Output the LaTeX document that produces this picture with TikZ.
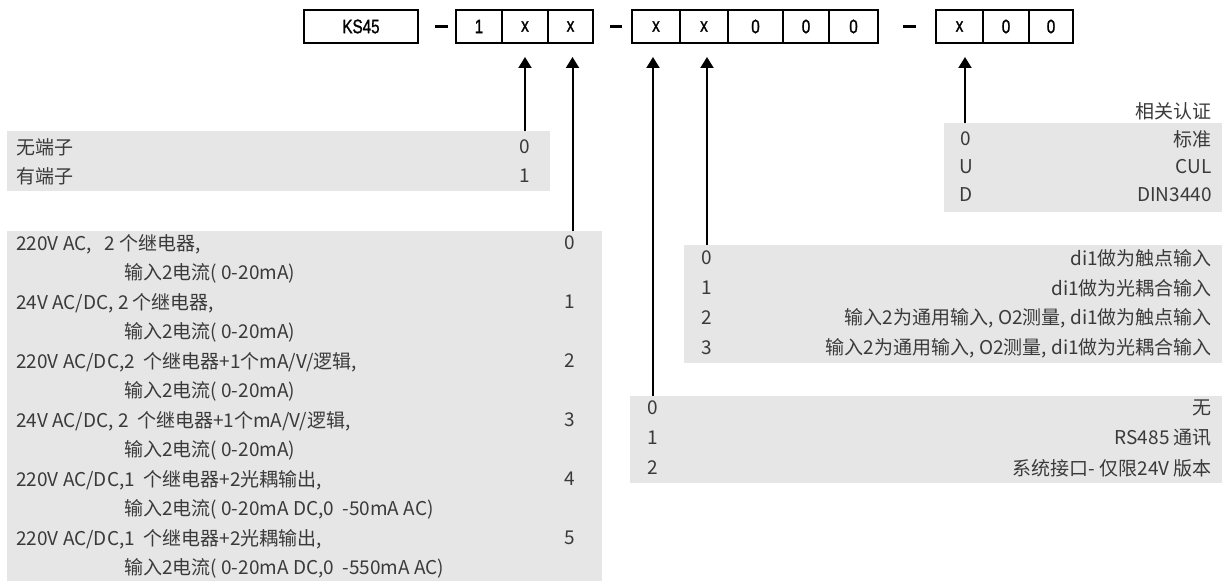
\documentclass[tikz,border=0pt]{standalone}
\usepackage{fontspec}
\setmainfont{Noto Sans CJK SC}
\newfontfamily\boxfont{Liberation Sans}[FakeStretch=0.78,FakeBold=1.2]
\usetikzlibrary{arrows.meta}
\definecolor{panelgray}{HTML}{E6E6E6}
\definecolor{txt}{HTML}{3A3A3A}
\begin{document}
\begin{tikzpicture}[x=1pt,y=-1pt,
  cell/.style={draw, line width=1.1pt, minimum height=33pt, inner sep=0pt,
    font=\boxfont\fontsize{19.5}{20}\selectfont},
  panel/.style={fill=panelgray, draw=none, inner sep=0pt, anchor=north west},
  lt/.style={anchor=west, inner sep=0pt, text=txt, font=\fontsize{19}{20}\selectfont},
  rt/.style={anchor=east, inner sep=0pt, text=txt, font=\fontsize{19}{20}\selectfont},
  dg/.style={anchor=center, inner sep=0pt, text=txt, font=\fontsize{19}{20}\selectfont},
  arr/.style={line width=2pt, -{Triangle[length=11pt,width=13pt]}},
  dashline/.style={line width=2.6pt}]
\useasboundingbox (0,0) rectangle (1229,585);
% top code boxes (y from 10 to 43)
\node[cell, minimum width=114pt] (ks) at (361,26.5) {KS45};
\draw[dashline] (435,26.5) -- (448,26.5);
\node[cell, minimum width=46pt] (a1) at (479,26.5) {1};
\node[cell, minimum width=46pt] (a2) at (525,26.5) {x};
\node[cell, minimum width=45pt] (a3) at (570.5,26.5) {x};
\draw[dashline] (610,26.5) -- (622,26.5);
\node[cell, minimum width=48pt] (b1) at (656,26.5) {x};
\node[cell, minimum width=48pt] (b2) at (704,26.5) {x};
\node[cell, minimum width=55pt] (b3) at (755.5,26.5) {0};
\node[cell, minimum width=46pt] (b4) at (806,26.5) {0};
\node[cell, minimum width=49pt] (b5) at (853.5,26.5) {0};
\draw[dashline] (903,26.5) -- (916,26.5);
\node[cell, minimum width=47pt] (c1) at (959.5,26.5) {x};
\node[cell, minimum width=46pt] (c2) at (1006,26.5) {0};
\node[cell, minimum width=44pt] (c3) at (1051,26.5) {0};
% panels
\node[panel, minimum width=543pt, minimum height=60pt] (p1) at (7,131) {};
\node[panel, minimum width=595pt, minimum height=350pt] (p2) at (7,231) {};
\node[panel, minimum width=538pt, minimum height=118pt] (p3) at (684,245) {};
\node[panel, minimum width=592pt, minimum height=87pt] (p4) at (630,396) {};
\node[panel, minimum width=278pt, minimum height=89pt] (p5) at (944,123) {};
% arrow tips
\coordinate (t1) at (525,57);
\coordinate (t2) at (572.5,57);
\coordinate (t3) at (653,57);
\coordinate (t4) at (707,57);
\coordinate (t5) at (965,57);
\draw[arr] (p1.north -| t1) -- (t1);
\draw[arr] (p2.north -| t2) -- (t2);
\draw[arr] (p4.north -| t3) -- (t3);
\draw[arr] (p3.north -| t4) -- (t4);
\draw[arr] (p5.north -| t5) -- (t5);
% panel 1
\node[lt] (p1a) at (16,147) {无端子};
\node[dg] (p1ad) at (525,147) {0};
\node[lt] (p1b) at (16,176) {有端子};
\node[dg] (p1bd) at (525,176) {1};
% panel 2
\node[lt] (l1) at (16,244) {220V AC,\ \ \ 2 个继电器,};
\node[lt] (l2) at (124,273.5) {输入2电流( 0-20mA)};
\node[lt] (l3) at (16,303) {24V AC/DC, 2 个继电器,};
\node[lt] (l4) at (124,332.5) {输入2电流( 0-20mA)};
\node[lt] (l5) at (16,362) {220V AC/DC,2\ \ 个继电器+1个mA/V/逻辑,};
\node[lt] (l6) at (124,391.5) {输入2电流( 0-20mA)};
\node[lt] (l7) at (16,421) {24V AC/DC, 2\ \ 个继电器+1个mA/V/逻辑,};
\node[lt] (l8) at (124,450.5) {输入2电流( 0-20mA)};
\node[lt] (l9) at (16,480) {220V AC/DC,1\ \ 个继电器+2光耦输出,};
\node[lt] (l10) at (124,509.5) {输入2电流( 0-20mA DC,0\ \ -50mA AC)};
\node[lt] (l11) at (16,539) {220V AC/DC,1\ \ 个继电器+2光耦输出,};
\node[lt] (l12) at (124,568.5) {输入2电流( 0-20mA DC,0\ \ -550mA AC)};
\node[dg] (d0) at (570,243) {0};
\node[dg] (d1) at (570,302) {1};
\node[dg] (d2) at (570,361) {2};
\node[dg] (d3) at (570,420) {3};
\node[dg] (d4) at (570,479) {4};
\node[dg] (d5) at (570,538) {5};
% panel 3
\node[dg] (q0) at (707,258) {0};
\node[rt] (q0t) at (1212,258) {di1做为触点输入};
\node[dg] (q1) at (707,288) {1};
\node[rt] (q1t) at (1212,288) {di1做为光耦合输入};
\node[dg] (q2) at (707,318) {2};
\node[rt] (q2t) at (1212,318) {输入2为通用输入, O2测量, di1做为触点输入};
\node[dg] (q3) at (707,348) {3};
\node[rt] (q3t) at (1212,348) {输入2为通用输入, O2测量, di1做为光耦合输入};
% panel 4
\node[dg] (r0) at (653,408) {0};
\node[rt] (r0t) at (1212,408) {无};
\node[dg] (r1) at (653,438) {1};
\node[rt] (r1t) at (1212,438) {RS485 通讯};
\node[dg] (r2) at (653,468) {2};
\node[rt] (r2t) at (1212,468) {系统接口- 仅限24V 版本};
% panel 5
\node[rt] (s) at (1212,111) {相关认证};
\node[dg] (s0) at (966,139) {0};
\node[rt] (s0t) at (1212,139) {标准};
\node[dg] (s1) at (966,167) {U};
\node[rt] (s1t) at (1212,167) {CUL};
\node[dg] (s2) at (966,195) {D};
\node[rt] (s2t) at (1212,195) {DIN3440};
\end{tikzpicture}
\end{document}
